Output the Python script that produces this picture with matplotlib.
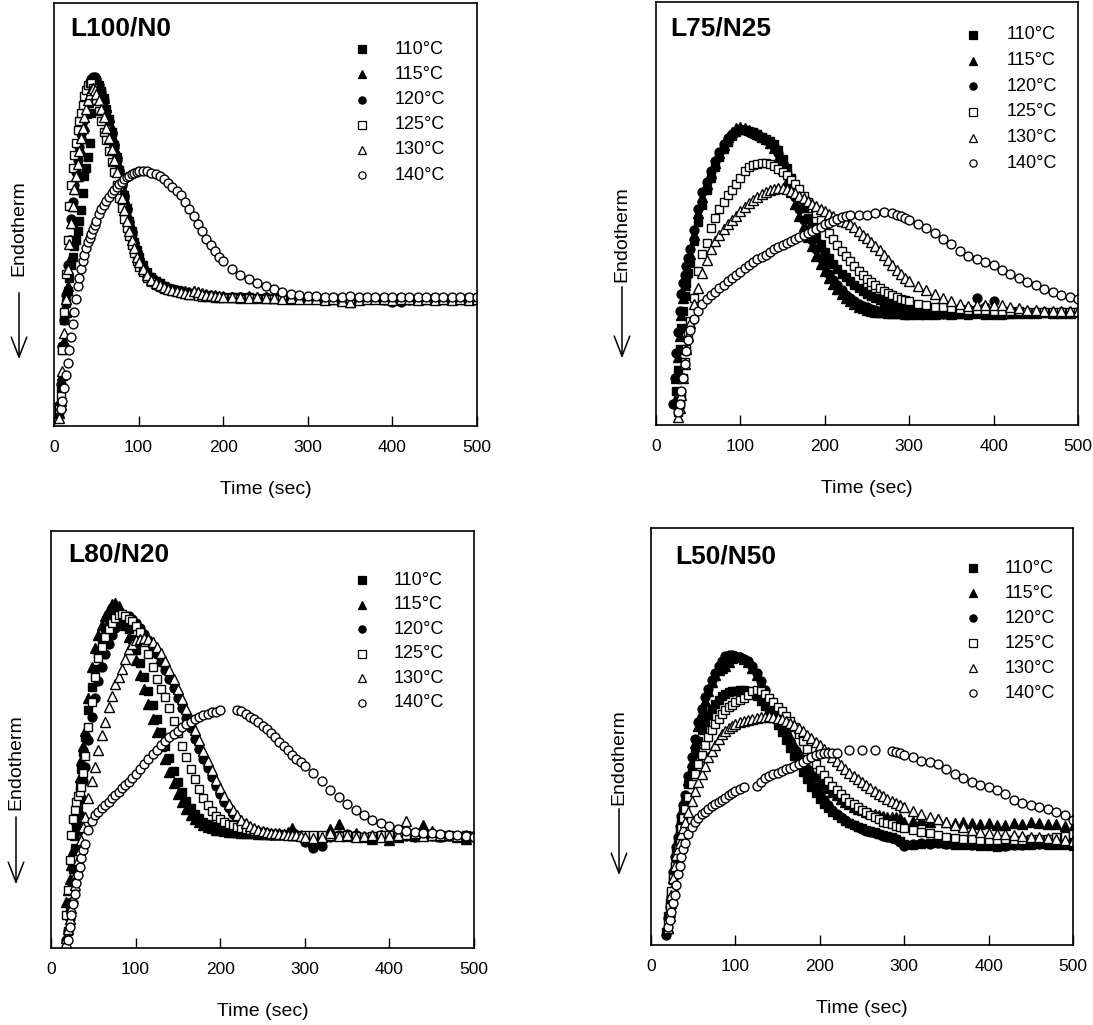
import numpy as np
import matplotlib
matplotlib.use("Agg")
import matplotlib.pyplot as plt
from matplotlib.patches import FancyArrowPatch

plt.rcParams['font.family'] = ['Liberation Sans', 'DejaVu Sans']
nan = np.nan

# ---------------- data (y = signal in % of axis height) -------------
temps = ["110°C", "115°C", "120°C", "125°C", "130°C", "140°C"]

# ---- L100/N0 ----
T_L100 = [6, 8, 10, 12, 14, 16, 18, 20, 22, 24, 26, 28, 30, 32, 34, 36, 38, 40, 42, 44, 46, 48, 50,
          53, 56, 59, 62, 65, 68, 71, 74, 77, 80, 83, 86, 89, 92, 95, 98, 101,
          105, 110, 115, 120, 125, 130, 135, 140, 145, 150, 155, 160, 165, 170, 175, 180, 185, 190, 195, 200,
          210, 220, 230, 240, 250, 260, 270, 280, 290, 300, 310, 320, 330, 340, 350, 360, 370, 380, 390, 400,
          410, 420, 430, 440, 450, 460, 470, 480, 490, 500]
L100_110 = [3, 9, 18, 25, 29, 32, 35, 38, 40, 42.5, 44, 46, 48.5, 51, 55, 59, 61, 63.5, 67, 74, 79, 81.5, 81.5,
            80.5, 79.2, 77.5, 75, 72.5, 69.5, 66.5, 63.5, 60.5, 57.5, 54.5, 51.5, 48.5, 46, 43.5, 41.5, 40,
            38, 36.3, 35.2, 34.3, 33.7, 33.1, 32.7, 32.4, 32.1, 31.9, 31.7, 31.5, 31.3, 31.1, 31, 30.9, 30.8, 30.7, 30.6, 30.5,
            30.5, 30.4, 30.4, 30.3, 30.3, 30.2, 30.3, 30.2, 30.2, 30.1, 30.2, 30.1, 30.2, 30.1, 30, 30.1, 30.2, 30.1, 30, 30.1,
            30.2, 30.1, 30, 30.1, 30.2, 30.1, 30, 30.1, 30.2, 30.1]
L100_115 = [3, 6, 12, 20, 27, 33, 39, 44, 48, 52, 56, 59, 62, 65, 68, 71, 74, 76.5, 78.5, 80, 81, 81.5, 81.5,
            80.5, 79, 77.5, 75.5, 73, 70.5, 67.5, 64.5, 61.5, 58.5, 55.5, 52.5, 49.5, 47, 44.5, 42.3, 40.5,
            38.5, 36.5, 35.3, 34.5, 33.8, 33.2, 32.8, 32.5, 32.2, 32, 31.8, 31.6, 31.8, 31.7, 31.5, 31.3, 31, 30.9, 30.8, 30.7,
            30.6, 30.5, 30.8, 30.5, 30.4, 30.3, 30.4, 30.2, 30.3, 30.3, 30.2, 30.3, 30.1, 29.8, 29.9, 30.2, 30.3, 30.2, 30.1, 30,
            30.2, 30.1, 30.2, 30, 30.1, 30, 30.2, 30.1, 30, 30]
L100_120 = [5, 10, 19, 25, 31, 38, 44, 49, 53, 57, 60, 63, 66, 69, 72, 75, 77.5, 79.5, 81, 82, 82.5, 82.5, 82,
            80.5, 79, 77, 74.5, 72, 69, 66, 63, 60, 57, 54, 51, 48, 45.5, 43, 41, 39.5,
            37.5, 36, 35, 34.2, 33.6, 33, 32.6, 32.3, 32, 31.8, 31.6, 31.4, 31.2, 31, 31, 30.8, 30.8, 30.6, 30.6, 30.5,
            30.5, 30.4, 30.5, 30.3, 30.4, 30.3, 30.3, 30.2, 30.3, 30.2, 30.3, 30.2, 30.2, 30, 30.1, 30.2, 30.2, 30.1, 29.8, 29.3,
            29.2, 29.8, 30, 30.1, 30, 30.1, 30, 30.1, 30, 30.1]
L100_125 = [4, 7, 18, 27, 36, 44, 52, 57, 61, 64, 67, 70, 72, 74, 76, 78, 79.5, 80.5, 81, 81, 80, 78.5, 77,
            74.5, 72, 69.5, 67.5, 65, 62.5, 60, 57, 54, 51.5, 49, 46.8, 44.8, 42.8, 40.8, 39, 37.7,
            36.3, 35, 34, 33.4, 32.9, 32.5, 32.2, 32, 31.7, 31.5, 31.2, 31, 31, 30.8, 30.6, 30.5, 30.5, 30.3, 30.3, 30.2,
            30.2, 30, 30.2, 30.1, 30, 30.1, 30, 29.9, 30, 30.1, 30, 30, 30.1, 29.5, 29, 29.8, 30, 30.1, 30, 29.9,
            30, 30.1, 30, 30, 29.9, 30, 30.1, 30, 30, 30.1]
L100_130 = [2, 5, 13, 22, 30, 37, 43, 48, 52, 56, 59, 62, 65, 68, 70.5, 73, 75, 77, 78.5, 79.5, 80, 79.5, 78.5,
            77, 75, 73, 70.5, 68, 65.5, 63, 60, 57, 54, 51, 48.5, 46, 44, 42, 40, 38.7,
            37, 35.6, 34.5, 33.8, 33.3, 32.8, 32.4, 32.1, 31.9, 31.7, 31.5, 31.3, 31.8, 31.7, 31.2, 31, 30.9, 30.8, 30.7, 30.6,
            30.5, 30.4, 30.3, 30.4, 30.2, 30.3, 30.1, 30.2, 30, 30.1, 30, 29.9, 30, 29.6, 29.4, 29.8, 30, 30.1, 30, 29.9,
            30, 30.1, 29.8, 30, 29.9, 30, 29.8, 30, 29.9, 30]
L100_140 = [nan, 4, 6, 9, 12, 15, 18, 21, 24, 27, 30, 33, 35, 37, 39, 40.5, 42, 43.5, 44.5, 45.5, 46.5, 47.5, 48.5,
            50, 51.2, 52.3, 53.3, 54.2, 55, 55.8, 56.5, 57.2, 57.8, 58.3, 58.8, 59.2, 59.6, 59.9, 60.1, 60.2,
            60.3, 60.2, 59.9, 59.6, 59, 58.3, 57.5, 56.5, 55.5, 54.5, 53, 51.3, 49.6, 47.8, 46, 44.3, 42.7, 41.3, 40, 38.9,
            37.1, 35.8, 34.8, 33.9, 33.1, 32.3, 31.6, 31.2, 31, 30.8, 30.7, 30.6, 30.6, 30.5, 30.7, 30.6, 30.5, 30.6, 30.5, 30.6,
            30.5, 30.6, 30.5, 30.6, 30.5, 30.5, 30.6, 30.5, 30.5, 30.4]

# ---- L75/N25 ----
T_L75 = [20, 22, 24, 26, 28, 30, 32, 34, 36, 38, 40,
         45, 50, 55, 60, 65, 70, 75, 80, 85, 90,
         95, 100, 105, 110, 115, 120, 125, 130, 135, 140,
         145, 150, 155, 160, 165, 170, 175, 180, 185, 190,
         195, 200, 205, 210, 215, 220, 225, 230, 235, 240,
         245, 250, 255, 260, 265, 270, 275, 280, 285, 290,
         295, 300,
         310, 320, 330, 340, 350, 360, 370, 380, 390, 400,
         410, 420, 430, 440, 450, 460, 470, 480, 490, 500]
L75_110 = [nan, nan, 8, 13, 18, 23, 27, 30.5, 33.5, 36, 38.5,
           43.5, 48, 52, 55.5, 58.5, 61, 63.3, 65.3, 67, 68.3,
           69.2, 69.7, 69.8, 69.6, 69.2, 68.7, 68.2, 67.7, 67.2, 66.5,
           65, 63, 60.8, 58.5, 56, 53.5, 51.2, 49, 46.7, 44.5,
           42.7, 41, 39.5, 38, 36.8, 35.8, 34.9, 34, 33.2, 32.5,
           31.7, 31, 30.5, 30, 29.5, 29, 28.6, 28.2, 27.9, 27.6,
           27.4, 27.2,
           27, 26.8, 26.6, 26.5, 26.3, 26.2, 26.1, 26.2, 26.1, 26,
           26.1, 26.2, 26.3, 26.4, 26.5, 26.4, 26.5, 26.6, 26.5, 26.6]
L75_115 = [nan, 6, 11, 16, 21, 26, 30, 33, 36, 38.5, 40.5,
           45, 50, 54, 57, 59.5, 62, 64.3, 66.3, 68, 69.3,
           70.2, 70.5, 70.2, 69.8, 69.3, 68.8, 68.2, 67.5, 66.7, 65.5,
           63.2, 60.5, 57.8, 55, 52.2, 49.5, 47, 44.5, 42.2, 40,
           38, 36.3, 34.7, 33.3, 32.1, 31, 30, 29.2, 28.6, 28,
           27.6, 27.3, 27, 26.8, 26.7, 26.6, 26.5, 26.5, 26.4, 26.4,
           26.3, 26.3,
           26.2, 26.3, 26.2, 26.4, 26.3, 26.5, 26.8, 28.2, 27, 27.5,
           26.8, 26.5, 26.6, 26.4, 26.5, 26.6, 26.5, 26.4, 26.5, 26.6]
L75_120 = [5, 11, 17, 22, 27, 31, 33.5, 35.5, 37.5, 39.5, 41.5,
           46, 51, 55, 57.5, 60, 62.5, 64.5, 66.5, 67.8, 68.8,
           69.5, 70, 69.8, 69.3, 68.8, 68.3, 67.8, 67.3, 66.8, 66,
           64.2, 62, 59.3, 56.5, 53.8, 51, 48.5, 46, 43.7, 41.5,
           39.5, 37.5, 35.8, 34.3, 33, 31.8, 30.8, 30, 29.3, 28.7,
           28.2, 27.8, 27.5, 27.2, 27, 26.8, 26.7, 26.6, 26.5, 26.5,
           26.4, 26.4,
           26.3, 26.4, 26.3, 26.2, 26.3, 26.4, 27.5, 30, 28, 29.3,
           27, 26.6, 26.5, 26.7, 26.8, 26.6, 26.5, 26.6, 26.7, 26.6]
L75_125 = [nan, nan, nan, 3, 5, 7, 11, 15, 18, 21.5, 24.5,
           30, 36.5, 40.5, 43, 46.5, 49, 51, 52.8, 54.3, 55.5,
           57, 58.5, 60, 61, 61.5, 61.8, 62, 62, 61.8, 61.3,
           60.6, 59.8, 59, 58, 57, 55.7, 54.2, 52.7, 51.2, 50,
           48.4, 47, 45.5, 44, 42.6, 41.2, 39.9, 38.7, 37.5, 36.5,
           35.5, 34.5, 33.7, 33, 32.3, 31.7, 31.2, 30.7, 30.2, 29.8,
           29.5, 29.2,
           28.7, 28.3, 28, 27.8, 27.6, 27.4, 27.3, 27.2, 27.1, 27,
           27, 26.9, 26.9, 26.8, 26.8, 26.8, 26.8, 26.8, 26.8, 26.8]
L75_130 = [nan, nan, nan, 2, 4, 7, 11, 14.5, 18, 21, 24,
           28.5, 32.5, 36, 39, 41.5, 43.5, 45, 46.3, 47.5, 48.5,
           49.5, 50.5, 51.5, 52.5, 53.3, 54, 54.6, 55.1, 55.5, 55.8,
           56, 56, 55.8, 55.3, 54.8, 54.2, 53.6, 53, 52.3, 51.7,
           51.1, 50.5, 49.9, 49.3, 48.8, 48.3, 47.9, 47.4, 46.7, 45.9,
           45, 44.2, 43.3, 42.4, 41.4, 40.2, 39, 37.8, 36.7, 35.6,
           34.7, 34,
           32.8, 31.8, 31, 30.1, 29.3, 28.5, 28.2, 28.3, 28.4, 28.4,
           28.3, 28, 27.6, 27.3, 27.1, 27, 27, 26.9, 27, 27]
L75_140 = [nan, nan, nan, 3, 5, 8, 11, 14.5, 17.5, 20, 22.5,
           25, 27, 28.5, 29.8, 30.7, 31.5, 32.4, 33.2, 34, 34.8,
           35.5, 36.2, 37, 37.8, 38.5, 39.2, 39.8, 40.3, 40.9, 41.5,
           42, 42.5, 43, 43.4, 43.9, 44.4, 44.8, 45.3, 45.8, 46.3,
           46.8, 47.4, 47.8, 48.3, 48.7, 49.1, 49.4, 49.6, nan, 49.7,
           nan, 49.7, nan, 50, nan, 50.3, nan, 50, 49.7, 49.3,
           48.9, 48.4,
           47.5, 46.6, 45.4, 44, 42.7, 41.2, 40, 39.3, 38.5, 37.8,
           36.7, 35.7, 34.7, 33.8, 33, 32.2, 31.4, 30.8, 30.3, 29.9]

# ---- L80/N20 ----
T_L80 = [18, 20, 22, 24, 26, 28, 30, 32, 34, 36, 38, 40,
         44, 48, 52, 56, 60, 64, 68, 72, 76, 80, 84, 88, 92, 96, 100,
         105, 110, 115, 120, 125, 130, 135, 140, 145, 150,
         155, 160, 165, 170, 175, 180, 185, 190, 195, 200,
         205, 210, 215, 220, 225, 230, 235, 240, 245, 250,
         255, 260, 265, 270, 275, 280, 285, 290, 295, 300,
         310, 320, 330, 340, 350, 360, 370, 380, 390, 400,
         410, 420, 430, 440, 450, 460, 470, 480, 490, 500]
L80_110 = [nan, 4, 9, 14, 19, 24, 29, 34, 39, 43, 47, 50.5,
           57, 62.5, 67, 70.5, 73.5, 75.5, 77.5, 79, 80, 80.3, 79.8, 78.5, 76.5, 74, 71.5,
           68.3, 65, 61.6, 58.2, 55, 51.7, 48.5, 45.5, 42.5, 39.8,
           37.4, 35.3, 33.6, 32.2, 31.1, 30.3, 29.7, 29.2, 28.8, 28.5,
           28.3, 28.1, 27.9, 27.8, 27.7, 27.6, 27.5, 27.5, 27.4, 27.3,
           27.3, 27.2, 27.2, 27.3, 27.1, 27.2, 27, 27.1, 26.9, 26.8,
           26.5, 26.3, 27, 26.8, 27.2, 26.9, 26.7, 26.6, 26.8, 26.5,
           26.7, 26.8, 27, 27.1, 26.9, 26.7, 26.8, 26.6, 26.7, 26.8]
L80_115 = [11, 14, 16.5, 20, 23.5, 27, 31, 36, 41, 45, 48.5, 52,
           60, 67.5, 72, 75, 77.5, 79.5, 81.2, 82.5, 82.8, 82, 80, 77.5, 74.7, 71.8, 69,
           65.5, 62, 58.5, 55, 51.7, 48.5, 45.3, 42.3, 39.5, 37,
           35, 33.3, 32, 31, 30.2, 29.6, 29.1, 28.7, 28.4, 28.2,
           28, 27.9, 27.8, 27.7, 27.6, 27.6, 27.5, 27.5, 27.4, 27.4,
           27.3, 27.4, 27.3, 27.5, 27.3, 27.8, 28.8, 27.4, 27, 26.6,
           25.5, 26.5, 28.5, 29.8, 26.8, 27.5, 26.5, 26.2, 27, 25.8,
           26.6, 27.4, 26.9, 29.5, 28, 26.8, 27.2, 26.6, 26.2, 26.8]
L80_120 = [2, 4, 7, 11, 15, 19, 23.5, 28, 32, 36, 40, 43.5,
           50, 55.5, 60, 64, 67.5, 70.5, 73, 75, 76.7, 78, 79, 79.5, 79.5, 79, 78,
           76.7, 75.2, 73.8, 72.2, 70.5, 68.6, 66.6, 64.5, 62.3, 60,
           57.6, 55.2, 52.7, 50.2, 47.8, 45.4, 43.1, 40.9, 38.8, 36.9,
           35.1, 33.5, 32.1, 30.9, 29.9, 29.1, 28.5, 28, 27.7, 27.5,
           27.3, 27.2, 27.1, 27, 27.2, 27, 27.5, 27, 26.5, 25.5,
           24, 24.5, 26.5, 27, 27.3, 27, 26.5, 26.8, 27, 26.2,
           26.5, 26.8, 26.7, 27, 26.9, 26.7, 26.9, 26.8, 26.6, 26.8]
L80_125 = [8, 14, 21, 27, 31, 33, 35, 36.5, 37.5, 38.7, 42, 46,
           53, 59, 65, 69.5, 72.3, 74.5, 76.5, 78, 79.2, 79.8, 80, 79.6, 79, 78.3, 77.3,
           75.7, 73.5, 70.5, 67.5, 64.5, 62.2, 60.2, 57.5, 54.5, 51.5,
           48.5, 45.7, 43, 40.5, 38.2, 36, 34.2, 32.8, 31.7, 30.9,
           30.3, 29.8, 29.4, 29.1, 28.8, 28.5, 28.3, 28.1, 27.9, 27.7,
           27.5, 27.4, 27.3, 27.2, 27.1, 27, 26.9, 26.8, 26.9, 27,
           27.2, 27, 26.8, 26.9, 27, 26.8, 26.7, 26.9, 27.2, 27,
           26.8, 27.1, 27, 26.9, 27.2, 27.1, 27, 26.8, 27, 26.9]
L80_130 = [2.5, 4.5, 7, 9.5, 12, 15, 18, 21, 23.5, 26, 29, 31.5,
           36, 40, 43.5, 47.5, 51, 54.2, 57.8, 60.5, 63.3, 65, 67, 69.3, 71.7, 73, 73.8,
           74.2, 74.3, 74, 73.3, 72.2, 70.7, 68.8, 66.7, 64.5, 62.2,
           59.8, 57.3, 54.8, 52.3, 49.8, 47.3, 44.9, 42.6, 40.4, 38.3,
           36.4, 34.6, 33.1, 31.8, 30.7, 29.9, 29.2, 28.7, 28.3, 28,
           27.8, 27.6, 27.5, 27.4, 27.3, 27.2, 27.1, 27, 26.9, 26.5,
           26.3, 26.5, 27.5, 26.8, 27, 26.6, 26.8, 27.2, 26.5, 26.8,
           27, 30.5, 27.5, 26.9, 27, 27.2, 27.1, 26.8, 27, 26.9]
L80_140 = [0.3, 2, 5, 8, 10.5, 13, 15.5, 17.5, 19.5, 21.5, 23.5, 25,
           28.3, 30.5, 31.8, 32.7, 33.6, 34.4, 35.1, 35.9, 36.7, 37.5, 38.3, 39.1, 39.9, 40.8, 41.7,
           42.9, 44.1, 45.4, 46.5, 47.6, 48.7, 49.6, 50.5, 51.3, 52.1,
           52.9, 53.6, 54.2, 54.8, 55.3, 55.8, 56.2, 56.5, 56.7, 57,
           nan, nan, nan, 57.1, 56.8, 56.2, 55.5, 55, 54.3, 53.3,
           52.5, 51.5, 50.5, 49.4, 48.4, 47.4, 46.4, 45.4, 44.5, 43.6,
           42, 40, 38, 36.2, 34.5, 33, 31.8, 30.8, 30, 29.2,
           28.5, 28, 27.8, 27.6, 27.5, 27.3, 27.2, 27, 26.9, 26.7]

# ---- L50/N50 ----
T_L50 = [18, 20, 22, 24, 26, 28, 30, 32, 34, 36, 38, 40,
         44, 48, 52, 56, 60, 64, 68, 72, 76, 80, 84, 88, 92, 96, 100,
         105, 110, 115, 120, 125, 130, 135, 140, 145, 150,
         155, 160, 165, 170, 175, 180, 185, 190, 195, 200,
         205, 210, 215, 220, 225, 230, 235, 240, 245, 250,
         255, 260, 265, 270, 275, 280, 285, 290, 295, 300,
         310, 320, 330, 340, 350, 360, 370, 380, 390, 400,
         410, 420, 430, 440, 450, 460, 470, 480, 490, 500]
L50_110 = [3, 7, 10, 12.5, 15.5, 19, 22, 24.5, 27, 29.5, 32, 34,
           38.5, 42.5, 46, 49, 51.5, 53.5, 55.2, 56.6, 57.8, 58.8, 59.6, 60.2, 60.6, 60.8, 61,
           61.1, 61.1, 60.8, 60.3, 59.6, 58.6, 57.4, 56, 54.4, 52.8,
           51, 49.2, 47.3, 45.4, 43.5, 41.6, 39.8, 38, 36.4, 35,
           33.8, 32.8, 31.9, 31.1, 30.4, 29.8, 29.3, 28.8, 28.4, 28,
           27.6, 27.3, 27, 26.7, 26.4, 26.1, 25.8, 25.5, 25, 24.2,
           24, 24.3, 24.5, 24.4, 24.2, 24.1, 24, 23.9, 23.8, 23.7,
           23.6, 23.8, 23.9, 24, 24.1, 24.2, 24.1, 24, 23.9, 23.7]
L50_115 = [nan, 4, 7, 10, 14, 18, 21.5, 24.5, 27.5, 30, 32.5, 35,
           39.5, 44, 48.5, 52.5, 55.8, 58.5, 61, 63, 64.8, 66, 66.5, 67, 67.8, 68.8, 69.2,
           69, 68.5, 67.8, 66.5, 64.8, 62.8, 60.8, 58.8, 56.8, 55,
           53.2, 51.5, 49.8, 48, 46.2, 44.6, 43.1, 41.8, 40.6, 39.5,
           38.5, 37.6, 36.7, 35.9, 35.1, 34.4, 33.8, 33.2, 32.7, 32.3,
           31.9, 31.6, 31.3, 31.1, 30.9, 30.8, 30.7, 30.8, 30.5, 29.5,
           29.8, 30, 29.6, 30.2, 29.5, 29.3, 29.6, 29.2, 29, 29.3,
           28.8, 28.8, 29.3, 29, 29.5, 29.2, 29, 28.9, 28.5, 28.4]
L50_120 = [2.5, 6.5, 9, 11.5, 17.5, 21, 23.5, 26, 28.5, 31, 33.5, 36,
           40.5, 45, 49.5, 53.5, 56.5, 59.5, 61.5, 63.5, 65.2, 66.8, 68.2, 69.3, 69.6, 69.5, 69.3,
           69, 68.6, 68, 66.8, 65.2, 63.3, 61.2, 59, 56.8, 54.6,
           52.5, 50.8, 49, 47, 45, 43.5, 41.8, 39.8, 37.6, 36.2,
           34.8, 33.6, 32.4, 31.4, 30.6, 29.9, 29.2, 28.7, 28.2, 27.8,
           27.4, 27.1, 26.8, 26.5, 26.2, 25.9, 25.6, 25.3, 24.8, 23.8,
           24.2, 24.5, 24.3, 24.4, 24.3, 24.2, 24.2, 24.1, 24, 23.9,
           23.8, 23.7, 23.9, 24, 24.2, 24.3, 24.4, 24.3, 24.5, 24.6]
L50_125 = [nan, 5, 9, 13, 16, 19, 21, 23, 25, 28, 30.5, 32.5,
           35.5, 38.5, 41, 43.3, 45.5, 48, 50, 51.5, 53, 54.3, 55.5, 56.3, 57, 57.6, 58.2,
           58.7, 59.2, 60, 60.8, 61.2, 61, 60.2, 59.3, 58.2, 57,
           56, 54.9, 53.8, 52.3, 50.6, 48.9, 47, 45.1, 43.5, 42,
           40.7, 39.4, 38.2, 37.1, 36.1, 35.2, 34.4, 33.7, 33, 32.4,
           31.8, 31.2, 30.6, 30.1, 29.6, 29.2, 28.9, 28.6, 28.3, 28,
           27.6, 27.2, 26.8, 26.4, 26, 25.7, 25.5, 25.3, 25.2, 25.2,
           25.2, 25.3, 25.2, 25.2, 25.3, 25.4, 25.5, 25.8, 26.2, 26.6]
L50_130 = [nan, 4, 8, 12, 16, 19, 21.5, 23, 24.5, 26.5, 28, 29.5,
           32, 34.5, 37, 39, 41, 43, 45, 46.5, 48, 49.5, 50.5, 51.3, 52, 52.6, 53,
           53.4, 53.7, 54, 54.2, 54.4, 54.6, 54.7, 54.8, 54.7, 54.5,
           54.2, 53.8, 53.3, 52.7, 52, 51.2, 50.4, 49.6, 48.8, 48,
           47.1, 46.2, 45.2, 44.2, 43.2, 42.2, 41.3, 40.5, 39.7, 39,
           38.3, 37.6, 36.9, 36.3, 35.7, 35.1, 34.5, 34, 33.5, 33,
           32.2, 31.5, 30.8, 30.2, 29.5, 28.8, 28.2, 27.6, 27, 26.8,
           26.6, 26.5, 26.4, 26.2, 26, 25.8, 25.6, 25.4, 25.2, 25]
L50_140 = [nan, 4.4, 6, 8, 10, 12, 14.5, 17, 19, 21, 23, 24.5,
           26.5, 28.2, 29.4, 30.4, 31.3, 32, 32.7, 33.3, 33.8, 34.3, 34.8, 35.3, 35.9, 36.5, 37,
           37.5, 38, nan, nan, 38.2, 39.2, 40, 40.6, 41, 41.3,
           41.7, 42.1, 42.5, 43, 43.5, 44, 44.6, 45.2, 45.6, 45.9,
           46, 46, 46, 46, nan, nan, 46.8, nan, nan, 46.8,
           nan, nan, 46.8, nan, nan, nan, 46.5, 46.4, 46, 45.5,
           45, 44.2, 43.8, 43.3, 42.2, 41, 40, 39, 38.3, 37.8,
           37.2, 36.3, 34.8, 34, 33.5, 33, 32.5, 32, 31.2, 30]

# ---------------- styling / layout ----------------
W, H = 1093, 1025
markers = [('s', 'black'), ('^', 'black'), ('o', 'black'),
           ('s', 'white'), ('^', 'white'), ('o', 'white')]

panels = [
    dict(title="L100/N0", t=T_L100, series=[L100_110, L100_115, L100_120, L100_125, L100_130, L100_140],
         box=(54, 3, 477, 426), title_xy=(70, 29), leg=(0.728, 0.806, 0.891, 0.0596),
         endo=(19, 228), arrow=((19, 290), (19, 362))),
    dict(title="L75/N25", t=T_L75, series=[L75_110, L75_115, L75_120, L75_125, L75_130, L75_140],
         box=(656, 2, 1078, 425), title_xy=(670, 28), leg=(0.751, 0.832, 0.922, 0.0606),
         endo=(622, 234), arrow=((622, 284), (622, 361))),
    dict(title="L80/N20", t=T_L80, series=[L80_110, L80_115, L80_120, L80_125, L80_130, L80_140],
         box=(51, 531, 474, 948), title_xy=(68, 555), leg=(0.735, 0.809, 0.882, 0.0588),
         endo=(16, 762), arrow=((16, 814), (16, 887))),
    dict(title="L50/N50", t=T_L50, series=[L50_110, L50_115, L50_120, L50_125, L50_130, L50_140],
         box=(651, 528, 1073, 945), title_xy=(675, 557), leg=(0.763, 0.839, 0.904, 0.060),
         endo=(619, 757), arrow=((619, 806), (619, 878))),
]

fig = plt.figure(figsize=(W / 100, H / 100), dpi=100)


def fx(x):
    return x / W


def fy(y):
    return 1 - y / H


for p in panels:
    l, t, r, b = p['box']
    ax = fig.add_axes([fx(l), fy(b), (r - l) / W, (b - t) / H])
    T = p['t']
    for (m, fc), vals in zip(markers, p['series']):
        if len(vals) != len(T):
            raise ValueError(f"{p['title']}: length {len(vals)} vs {len(T)}")
        ms = 7.0 if m == '^' else 6.4
        ax.plot(T, vals, linestyle='none', marker=m, ms=ms, mfc=fc, mec='black', mew=1.0)
    ax.set_xlim(0, 500)
    ax.set_ylim(0, 100)
    ax.set_yticks([])
    ax.set_xticks([0, 100, 200, 300, 400, 500])
    ax.tick_params(axis='x', direction='in', length=7, width=1.0, pad=10, labelsize=12.5)
    ax.set_xlabel("Time (sec)", fontsize=14, labelpad=19)
    for s in ax.spines.values():
        s.set_linewidth(1.2)

    # legend (marker + label rows)
    mx, tx, y0, dy = p['leg']
    for i, ((m, fc), lab) in enumerate(zip(markers, temps)):
        yy = y0 - i * dy
        ax.plot([mx], [yy], linestyle='none', marker=m, ms=5.2 if m != '^' else 5.8,
                mfc=fc, mec='black', mew=0.9, transform=ax.transAxes, clip_on=False)
        ax.text(tx, yy, lab, transform=ax.transAxes, fontsize=13, va='center', ha='left')

    # panel title
    fig.text(fx(p['title_xy'][0]), fy(p['title_xy'][1]), p['title'], fontsize=19,
             fontweight='bold', ha='left', va='center')

    # Endotherm label with arrow
    ex, ey = p['endo']
    fig.text(fx(ex), fy(ey), "Endotherm", rotation=90, fontsize=14, ha='center', va='center')
    (ax0, ay0), (ax1, ay1) = p['arrow']
    arr = FancyArrowPatch((fx(ax0), fy(ay0)), (fx(ax1), fy(ay1)), transform=fig.transFigure,
                          arrowstyle='->,head_length=0.9,head_width=0.35', mutation_scale=16,
                          lw=1.1, color='black')
    fig.add_artist(arr)

fig.savefig("out.png", dpi=100)
